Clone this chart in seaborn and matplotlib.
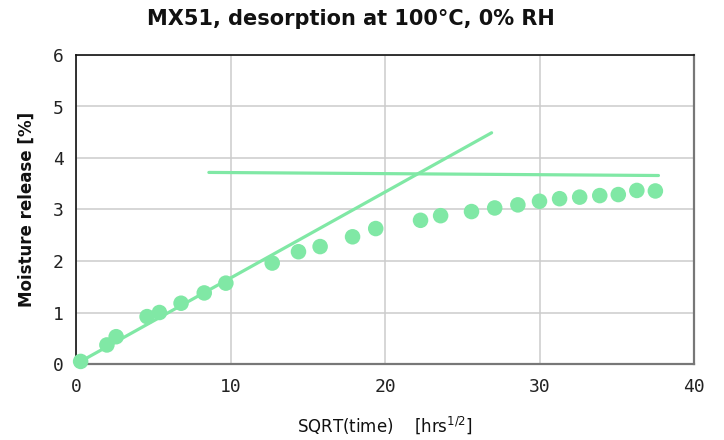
import matplotlib
matplotlib.use("Agg")
import matplotlib.pyplot as plt
import seaborn as sns
import pandas as pd

# Data
sqrt_time = [0.3, 2.0, 2.6, 4.6, 5.4, 6.8, 8.3, 9.7, 12.7, 14.4, 15.8, 17.9, 19.4,
             22.3, 23.6, 25.6, 27.1, 28.6, 30.0, 31.3, 32.6, 33.9, 35.1, 36.3, 37.5]
moisture = [0.05, 0.37, 0.53, 0.92, 1.0, 1.18, 1.38, 1.57, 1.96, 2.18, 2.28, 2.47, 2.63,
            2.79, 2.88, 2.96, 3.03, 3.09, 3.16, 3.21, 3.24, 3.27, 3.29, 3.37, 3.36]

fit1_x = [0.0, 26.9]
fit1_y = [0.0, 4.49]
fit2_x = [8.6, 37.7]
fit2_y = [3.72, 3.66]

x_ticks = [0, 10, 20, 30, 40]
y_ticks = [0, 1, 2, 3, 4, 5, 6]

GREEN = "#80e8a5"

sns.set_theme(style="white")
plt.rcParams['font.family'] = ['DejaVu Sans']

fig = plt.figure(figsize=(7.24, 4.4), dpi=100)
ax = fig.add_axes([76/724, 1 - 364/440, (694-76)/724, (364-55)/440])

df = pd.DataFrame({"x": sqrt_time, "y": moisture})
sns.scatterplot(data=df, x="x", y="y", ax=ax, color=GREEN, s=125,
                edgecolor="none", zorder=3, clip_on=False)
sns.lineplot(x=fit1_x, y=fit1_y, ax=ax, color=GREEN, linewidth=2.3, zorder=2)
sns.lineplot(x=fit2_x, y=fit2_y, ax=ax, color=GREEN, linewidth=2.3, zorder=2)

ax.set_xlim(0, 40)
ax.set_ylim(0, 6)
ax.set_xticks(x_ticks)
ax.set_yticks(y_ticks)
ax.set_xticklabels([str(t) for t in x_ticks], family="DejaVu Sans Mono", fontsize=13)
ax.set_yticklabels([str(t) for t in y_ticks], family="DejaVu Sans Mono", fontsize=13)
ax.tick_params(axis="x", length=0, pad=10, colors="#222222")
ax.tick_params(axis="y", length=0, pad=9, colors="#222222")

ax.grid(True, color="#cccccc", linewidth=1.1)
ax.set_axisbelow(True)

for side in ["top", "left"]:
    ax.spines[side].set_color("#111111")
    ax.spines[side].set_linewidth(1.2)
for side in ["bottom", "right"]:
    ax.spines[side].set_color("#777777")
    ax.spines[side].set_linewidth(1.6)

ax.set_xlabel(r"SQRT(time)    [hrs$^{1/2}$]", fontsize=12, fontweight="medium",
              labelpad=13, color="#111111")
ax.set_ylabel("Moisture release [%]", fontsize=12, fontweight="bold",
              labelpad=12, color="#111111")

fig.text(351/724, 1 - 19/440, "MX51, desorption at 100°C, 0% RH", ha="center",
         va="center", fontsize=15, fontweight="semibold", color="#111111")

fig.savefig("out.png", dpi=100)
